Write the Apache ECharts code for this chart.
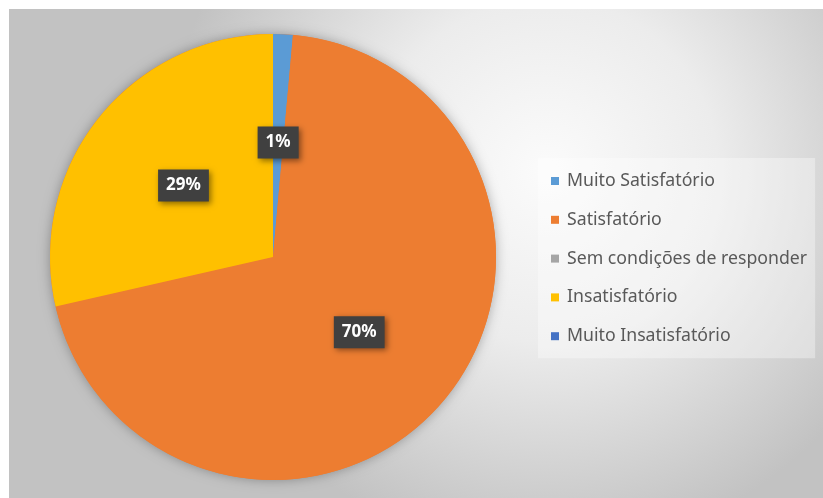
<!DOCTYPE html>
<html>
<head>
<meta charset="utf-8">
<script src="https://cdn.jsdelivr.net/npm/echarts@6/dist/echarts.min.js"></script>
<style>
  html, body { margin: 0; padding: 0; background: #ffffff; }
  #chart { width: 823px; height: 498px; }
</style>
</head>
<body>
<div id="chart"></div>
<script>
// Survey answers (counts per category)
const categories = [
  'Muito Satisfatório',
  'Satisfatório',
  'Sem condições de responder',
  'Insatisfatório',
  'Muito Insatisfatório'
];
const counts = [1, 49, 0, 20, 0];
const colors = ['#5B9BD5', '#ED7D31', '#A5A5A5', '#FFC000', '#4472C4'];

const FONT = '"Noto Sans", "Open Sans", sans-serif';
const CENTER = [273, 257];
const RADIUS = 223;

const pieData = categories.map((name, i) => ({
  name: name,
  value: counts[i],
  itemStyle: { color: colors[i] },
  label: { show: counts[i] > 0 }
}));

const chart = echarts.init(document.getElementById('chart'), null, { renderer: 'canvas' });

chart.setOption({
  animation: false,
  backgroundColor: '#ffffff',
  graphic: [{
    type: 'rect',
    z: -10,
    silent: true,
    shape: { x: 9, y: 9, width: 814, height: 489 },
    style: {
      fill: {
        type: 'radial',
        x: 0.66, y: 0.33, r: 0.78,
        colorStops: [
          { offset: 0, color: '#fbfbfb' },
          { offset: 0.45, color: '#ececec' },
          { offset: 1, color: '#c2c2c2' }
        ]
      }
    }
  }],
  legend: {
    orient: 'vertical',
    left: 538,
    top: 158,
    padding: [14, 8, 13, 13],
    backgroundColor: 'rgba(255,255,255,0.35)',
    icon: 'rect',
    itemWidth: 8,
    itemHeight: 8,
    itemGap: 20.8,
    data: categories,
    textStyle: {
      color: '#595959',
      fontFamily: FONT,
      fontSize: 17.7,
      lineHeight: 18,
      padding: [0, 0, 0, 3]
    }
  },
  series: [
    {
      // soft shadow under the whole disc
      type: 'pie',
      silent: true,
      center: CENTER,
      radius: RADIUS,
      z: 1,
      label: { show: false },
      labelLine: { show: false },
      itemStyle: {
        color: '#ED7D31',
        shadowBlur: 12,
        shadowColor: 'rgba(0,0,0,0.30)'
      },
      data: [{ value: 1, name: '' }],
      legendHoverLink: false
    },
    {
      type: 'pie',
      center: CENTER,
      radius: RADIUS,
      startAngle: 90,
      clockwise: true,
      z: 2,
      avoidLabelOverlap: false,
      itemStyle: { borderWidth: 0 },
      label: {
        position: 'inside',
        formatter: p => Math.round(p.percent) + '%',
        color: '#ffffff',
        fontFamily: FONT,
        fontWeight: 'bold',
        fontSize: 17,
        lineHeight: 18,
        backgroundColor: '#404040',
        padding: [7, 8],
        shadowBlur: 6,
        shadowOffsetX: 2,
        shadowOffsetY: 2,
        shadowColor: 'rgba(0,0,0,0.45)'
      },
      labelLine: { show: false },
      data: pieData
    }
  ]
});
</script>
</body>
</html>
